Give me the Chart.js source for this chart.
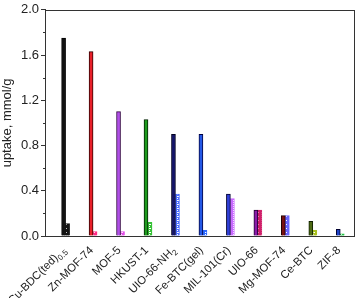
<!DOCTYPE html>
<html><head><meta charset="utf-8">
<script src="https://cdn.jsdelivr.net/npm/chart.js@4/dist/chart.umd.min.js"></script>
<style>html,body{margin:0;padding:0;background:#fff}#w{width:357px;height:298px}</style>
</head><body><div id="w"><canvas id="c"></canvas></div>
<script>
const categories = ["Cu-BDC(ted)","Zn-MOF-74","MOF-5","HKUST-1","UIO-66-NH","Fe-BTC(gel)","MIL-101(Cr)","UIO-66","Mg-MOF-74","Ce-BTC","ZIF-8"];
const categorySubs = ["0.5","","","","2","","","","","",""];
const mainValues = [1.75,1.63,1.10,1.03,0.90,0.90,0.37,0.23,0.18,0.13,0.06];
const hatchValues = [0.11,0.04,0.04,0.12,0.37,0.05,0.33,0.23,0.18,0.05,0.02];
const mainColors = ["#111111","#e8202a","#b04ee8","#1e9a1e","#14146a","#2458e6","#2f3fd8","#8a1ca8","#7a1010","#4e6a14","#1f44c8"];
const mainBorders = ["#000000","#300000","#300040","#002000","#000020","#000040","#000030","#200030","#200000","#102000","#000030"];
const hatchColors = ["#111111","#ff2a86","#e14ae6","#36c236","#4a6cff","#2a68ff","#c868ff","#d0206a","#6a66ff","#a8c01e","#22c444"];
const yTicks = [0,0.4,0.8,1.2,1.6,2.0];
const yMinor = [0.2,0.6,1.0,1.4,1.8];
const FONT = '"Liberation Sans", Arial, sans-serif';

function hatch(col){
  const c=document.createElement('canvas');c.width=4;c.height=4;
  const g=c.getContext('2d');g.fillStyle=col;g.fillRect(0,0,4,4);
  g.fillStyle='#ffffff';g.fillRect(1,0,2,1);g.fillRect(1,2,1,1);
  return g.createPattern(c,'repeat');
}

const frame={id:'frame',afterDraw(ch){
  const a=ch.chartArea,g=ch.ctx,y=ch.scales.y,x=ch.scales.x;
  g.save();g.strokeStyle='#333';g.lineWidth=1;
  g.strokeRect(Math.round(a.left)+0.5,Math.round(a.top)+0.5,Math.round(a.right-a.left),Math.round(a.bottom-a.top));
  yMinor.forEach(v=>{const p=Math.round(y.getPixelForValue(v))+0.5;g.beginPath();g.moveTo(a.left-2,p);g.lineTo(a.left,p);g.stroke();});
  g.fillStyle='#222';
  categories.forEach((t,i)=>{
    const px=x.getPixelForValue(i)-2, py=a.bottom+12;
    g.save();g.translate(px,py);g.rotate(-Math.PI/4);
    g.font='11.3px '+FONT;const wm=g.measureText(t).width;
    g.font='8px '+FONT;const ws=categorySubs[i]?g.measureText(categorySubs[i]).width:0;
    g.textAlign='left';g.textBaseline='alphabetic';
    g.font='11.3px '+FONT;g.fillText(t,-(wm+ws),4);
    if(ws){g.font='8px '+FONT;g.fillText(categorySubs[i],-ws,7);}
    g.restore();
  });
  g.restore();
}};

new Chart(document.getElementById('c'),{
  type:'bar',
  data:{datasets:[
    {data:mainValues.map((v,i)=>({x:i,y:v})),backgroundColor:mainColors,borderColor:mainBorders,borderWidth:1,barThickness:4},
    {data:hatchValues.map((v,i)=>({x:i,y:v})),backgroundColor:hatchColors.map(hatch),borderColor:hatchColors,borderWidth:1,barThickness:4}
  ]},
  options:{
    responsive:true,maintainAspectRatio:false,animation:false,
    layout:{padding:{top:5,right:3,left:0,bottom:0}},
    plugins:{legend:{display:false},tooltip:{enabled:false}},
    scales:{
      x:{type:'linear',offset:false,min:-0.75,max:10.5,
        afterBuildTicks(s){s.ticks=categories.map((_,i)=>({value:i}));},
        afterFit(s){s.height=62;},
        grid:{display:false,drawTicks:false},border:{color:'#333'},
        ticks:{display:false}},
      y:{min:0,max:2.0,
        afterBuildTicks(s){s.ticks=yTicks.map(v=>({value:v}));},
        afterFit(s){s.width=45;},
        grid:{drawOnChartArea:false,tickLength:4,color:'#333'},border:{color:'#333'},
        title:{display:true,text:'uptake, mmol/g',color:'#222',padding:{top:0,bottom:2},font:{family:FONT,size:13}},
        ticks:{color:'#222',padding:2,font:{family:FONT,size:13},callback:(v)=>v.toFixed(1)}}
    }
  },
  plugins:[frame]
});
</script></body></html>
